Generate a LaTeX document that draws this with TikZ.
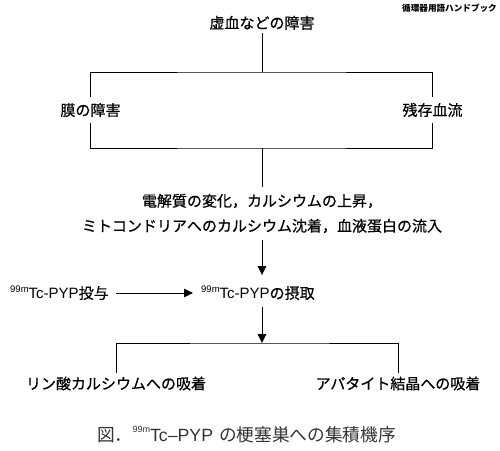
\documentclass[tikz,border=0pt]{standalone}
\usepackage{fontspec}
\newfontfamily\jp{Noto Sans CJK JP}
\newfontfamily\jpm{Noto Sans CJK JP}[FakeBold=0.6]
\newfontfamily\lat{Liberation Sans}
\usetikzlibrary{arrows.meta}
\newcommand{\tcs}[3]{{\lat\raisebox{#1}{\fontsize{#2}{#2}\selectfont 99m}Tc#3PYP}}
\begin{document}
\begin{tikzpicture}[x=1pt,y=-1pt,
  lbl/.style={font=\jpm\fontsize{15}{18}\selectfont, inner xsep=0pt, text height=12.5pt, text depth=1pt},
  conn/.style={line width=0.9pt},
  arr/.style={conn,-{Triangle[length=9pt,width=8.5pt]}}]
\useasboundingbox (0,0) rectangle (500,450);
\node[font=\jp\bfseries\fontsize{8.6}{10}\selectfont, anchor=east, inner sep=0pt] (brand) at (497,8) {循環器用語ハンドブック};
\node[lbl,inner ysep=3.5pt] (top) at (262,22.8) {虚血などの障害};
\node[lbl,inner ysep=6pt] (mem) at (90.5,110) {膜の障害};
\node[lbl,inner ysep=6pt] (res) at (432.5,110) {残存血流};
\coordinate (j1) at (262,72);
\coordinate (j2) at (262,148);
\node[font=\jpm\fontsize{15}{25}\selectfont, align=center, inner xsep=0pt, inner ysep=7pt] (elec) at (262,213.5) {電解質の変化，カルシウムの上昇，\\ミトコンドリアへのカルシウム沈着，血液蛋白の流入};
\node[lbl,anchor=west,inner ysep=0pt] (adm) at (10,293) {\tcs{6pt}{9.5}{-}投与};
\node[lbl,anchor=west,inner ysep=0pt] (upt) at (201,293) {\tcs{6pt}{9.5}{-}の摂取};
\coordinate (j3) at (262,343);
\node[lbl,inner ysep=4pt] (calph) at (116,383.5) {リン酸カルシウムへの吸着};
\node[lbl,inner ysep=4pt] (apat) at (398,383.5) {アパタイト結晶への吸着};
\node[font=\jp\fontsize{17.7}{20}\selectfont, text=black!80, anchor=west, inner sep=0pt] (cap) at (97,435) {図．\tcs{9pt}{9}{–}\hspace{6pt}の梗塞巣への集積機序};
\draw[conn] (top.south) -- (j1);
\draw[conn] (mem.north) |- (j1) -| (res.north);
\draw[conn] (mem.south) |- (j2) -| (res.south);
\draw[conn] (j2) -- (elec.north);
\draw[arr, shorten >=11pt] (elec.south) -- (elec.south |- upt.north);
\draw[arr, shorten <=7pt, shorten >=8pt] (adm) -- (upt);
\draw[arr, shorten <=7pt] (elec.south |- upt.south) -- (j3);
\draw[conn] (calph.north) |- (j3) -| (apat.north);
\end{tikzpicture}
\end{document}
